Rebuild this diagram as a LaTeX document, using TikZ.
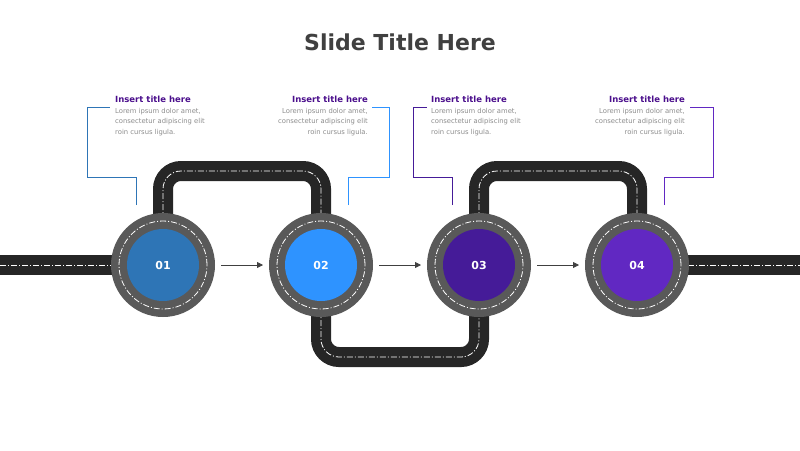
\documentclass[tikz,border=0pt]{standalone}
\usepackage{fontspec}
\setmainfont{DejaVu Sans}
\usetikzlibrary{arrows.meta}
\definecolor{road}{HTML}{262626}
\definecolor{ring}{HTML}{595959}
\definecolor{cA}{HTML}{2E75B6}
\definecolor{cB}{HTML}{2E93FF}
\definecolor{cC}{HTML}{451B98}
\definecolor{cD}{HTML}{6128C2}
\definecolor{ttl}{HTML}{4B0F8C}
\definecolor{txt}{HTML}{8C8C8C}
\begin{document}
\begin{tikzpicture}[x=1pt,y=-1pt,
  roadbg/.style={road,line width=20pt,rounded corners=18pt},
  roadln/.style={white,line width=0.8pt,rounded corners=18pt,dash pattern=on 6pt off 2pt on 1pt off 2pt},
  outer/.style={circle,fill=ring,minimum size=104pt,inner sep=0pt},
  inner/.style={circle,minimum size=72pt,inner sep=0pt,text=white,font=\bfseries\fontsize{11}{13}\selectfont},
  hd/.style={font=\bfseries\fontsize{8.5}{10}\selectfont,text=ttl,inner sep=0pt},
  bd/.style={font=\fontsize{6.8}{10.5}\selectfont,text=txt,inner sep=0pt},
  arr/.style={-{Triangle[length=6pt,width=6pt]},line width=0.8pt,draw=black!75}]
\useasboundingbox (0,0) rectangle (800,450);
\node[font=\bfseries\fontsize{22}{26}\selectfont,text=black!75] (title) at (400,42) {Slide Title Here};
% roads
\foreach \s in {roadbg,roadln}{
 \draw[\s] (0,265) -- (112,265);
 \draw[\s] (688,265) -- (800,265);
 \draw[\s] (163,265) -- (163,171) -- (321,171) -- (321,265);
 \draw[\s] (321,265) -- (321,357) -- (479,357) -- (479,265);
 \draw[\s] (479,265) -- (479,171) -- (637,171) -- (637,265);
}
\foreach \n/\x/\c/\t in {1/163/cA/01,2/321/cB/02,3/479/cC/03,4/637/cD/04}{
 \node[outer] (o\n) at (\x,265) {};
 \draw[white,line width=0.8pt,dash pattern=on 6pt off 2pt on 1pt off 2pt] (\x,265) circle[radius=44pt];
 \node[inner,fill=\c] (c\n) at (\x,265) {\t};
}
\draw[arr] (221,265) -- (263,265);
\draw[arr] (379,265) -- (421,265);
\draw[arr] (537,265) -- (579,265);
% callouts
\draw[cA,line width=0.7pt] (136,205) -- (136,177) -- (87,177) -- (87,107) -- (110,107);
\draw[cB,line width=0.7pt] (348,205) -- (348,177) -- (389,177) -- (389,107) -- (372,107);
\draw[cC,line width=0.7pt] (452,205) -- (452,177) -- (413,177) -- (413,107) -- (427,107);
\draw[cD,line width=0.7pt] (664,205) -- (664,177) -- (713,177) -- (713,107) -- (690,107);
\node[hd,anchor=west] (h1) at (115,99) {Insert title here};
\node[hd,anchor=east] (h2) at (368,99) {Insert title here};
\node[hd,anchor=west] (h3) at (431,99) {Insert title here};
\node[hd,anchor=east] (h4) at (685,99) {Insert title here};
\node[bd,anchor=north west,align=left] (b1) at (115,108) {Lorem ipsum dolor amet,\\consectetur adipiscing elit\\roin cursus ligula.};
\node[bd,anchor=north east,align=right] (b2) at (368,108) {Lorem ipsum dolor amet,\\consectetur adipiscing elit\\roin cursus ligula.};
\node[bd,anchor=north west,align=left] (b3) at (431,108) {Lorem ipsum dolor amet,\\consectetur adipiscing elit\\roin cursus ligula.};
\node[bd,anchor=north east,align=right] (b4) at (685,108) {Lorem ipsum dolor amet,\\consectetur adipiscing elit\\roin cursus ligula.};
\end{tikzpicture}
\end{document}
